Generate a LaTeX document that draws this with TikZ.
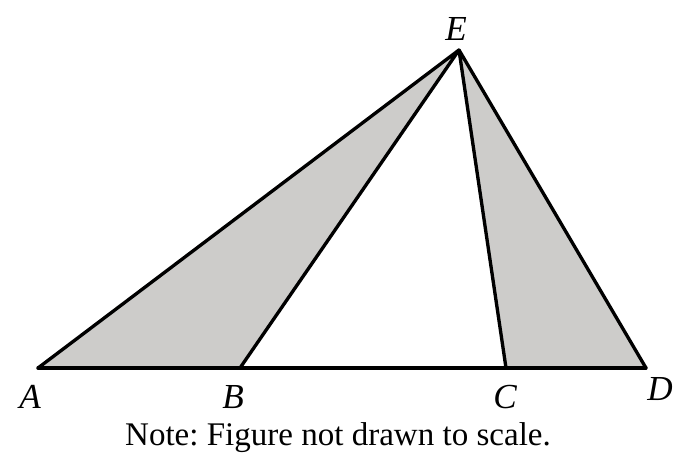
\documentclass[tikz,border=0pt]{standalone}
\usepackage{fontspec}
\setmainfont{Liberation Serif}
\frenchspacing
\begin{document}
\begin{tikzpicture}[
	x=0.02cm, y=-0.02cm,
	every node/.style={font=\fontsize{18.8}{21}\selectfont},
	edge/.style={line width=1.9pt, line join=round, line cap=round},
	shade/.style={fill={rgb,255:red,205;green,204;blue,202}},
	ptlabel/.style={font=\fontsize{20}{22}\selectfont\itshape},
] 
\useasboundingbox (0,0) rectangle (686,473);
\coordinate (A) at (38,368);
\coordinate (B) at (240,368);
\coordinate (C) at (506,368);
\coordinate (D) at (646,368);
\coordinate (E) at (459,50);
\fill[shade] (A) -- (B) -- (E) -- cycle;
\fill[shade] (C) -- (D) -- (E) -- cycle;
\draw[edge] (A) -- (D);
\draw[edge] (A) -- (E) -- (B);
\draw[edge] (C) -- (E) -- (D);
\node[ptlabel] (lA) at (30,397) {A};
\node[ptlabel] (lB) at (233,397) {B};
\node[ptlabel] (lC) at (505,397) {C};
\node[ptlabel] (lD) at (660,389) {D};
\node[ptlabel] (lE) at (456,29) {E};
\node (note) at (338,438) {Note: Figure not drawn to scale.};
\end{tikzpicture}
\end{document}
